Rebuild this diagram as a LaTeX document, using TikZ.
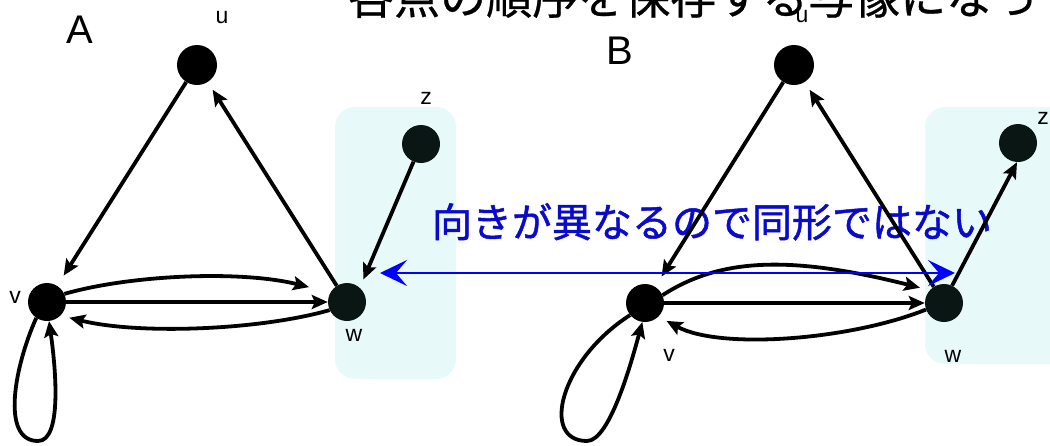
\documentclass[tikz,border=0pt]{standalone}
\usepackage{fontspec}
\setmainfont{Liberation Sans}
\newfontfamily\cjk[FakeBold=0.6]{Noto Sans CJK JP}
\newfontfamily\cjkb[FakeBold=1.2]{Noto Sans CJK JP}
\usetikzlibrary{arrows.meta}
\definecolor{boxcyan}{RGB}{232,249,250}
\definecolor{darknode}{RGB}{10,22,20}
\definecolor{txtblue}{RGB}{10,10,205}
\begin{document}
\begin{tikzpicture}[x=1pt,y=-1pt,
  vtx/.style={circle,fill=black,inner sep=0pt,minimum size=38pt},
  bigvtx/.style={vtx,minimum size=40pt},
  dvtx/.style={vtx,fill=darknode},
  lbl/.style={inner sep=0pt,font=\fontsize{23}{23}\selectfont},
  glbl/.style={inner sep=0pt,font=\fontsize{40}{40}\selectfont},
  edge/.style={line width=3.8pt,-{Stealth[length=16pt,width=14pt,inset=3pt]}},
  grp/.style={fill=boxcyan,rounded corners=20pt},
  bluearrow/.style={draw=blue,line width=2pt,{Stealth[length=27pt,width=26pt,inset=11pt]}-{Stealth[length=27pt,width=26pt,inset=11pt]}},
]
\useasboundingbox (0,0) rectangle (1050,445);
\clip (0,0) rectangle (1050,445);

% group boxes
\path[grp] (335,107) rectangle (456,379);
\path[grp] (925,107) rectangle (1075,364);

% title
\node[anchor=base west,inner sep=0pt,font=\cjk\fontsize{46}{46}\selectfont] (title) at (348,14) {各点の順序を保存する写像になってい};

% blue note
\node[anchor=base,inner sep=0pt,text=txtblue,font=\cjkb\fontsize{40}{40}\selectfont] (note) at (712,237) {向きが異なるので同形ではない};

% graph A
\node[bigvtx] (uA) at (197,65) {};
\node[vtx] (vA) at (47,302) {};
\node[dvtx] (wA) at (347,302) {};
\node[dvtx] (zA) at (421,144) {};
\node[glbl] (labA) at (79.5,30) {A};
\node[lbl] (luA) at (222,18) {u};
\node[lbl] (lvA) at (15,297) {v};
\node[lbl] (lwA) at (354,335) {w};
\node[lbl] (lzA) at (426,98) {z};

% graph B
\node[bigvtx] (uB) at (794,65) {};
\node[vtx] (vB) at (645,303) {};
\node[dvtx] (wB) at (944,303) {};
\node[dvtx] (zB) at (1018,143) {};
\node[glbl] (labB) at (620,51) {B};
\node[lbl] (luB) at (802,17) {u};
\node[lbl] (lvB) at (669,355) {v};
\node[lbl] (lwB) at (953,356) {w};
\node[lbl] (lzB) at (1043,118) {z};

% edges A
\draw[edge,shorten >=12pt] (uA) -- (vA);
\draw[edge,shorten >=9pt] (wA) -- (uA);
\draw[edge] (vA) -- (wA);
\draw[edge,shorten >=22pt] (vA.25) .. controls (130,275) and (240,270) .. (wA.150);
\draw[edge,shorten >=9pt] (wA.205) .. controls (260,330) and (140,335) .. (vA.-45);
\draw[edge] (vA.236) .. controls (15,365) and (0,441) .. (38,441) .. controls (62,441) and (56,370) .. (vA.-84);
\draw[edge,shorten >=9pt] (zA.-113) -- (wA.48);

% edges B
\draw[edge,shorten >=12pt] (uB) -- (vB);
\draw[edge,shorten >=9pt] (wB) -- (uB);
\draw[edge] (vB) -- (wB);
\draw[edge,shorten >=10pt] (vB.24) .. controls (720,258) and (790,255) .. (wB.138);
\draw[edge,shorten >=9pt] (wB.200) .. controls (850,340) and (720,350) .. (vB.-45);
\draw[edge] (vB.219) .. controls (560,360) and (540,441) .. (587,441) .. controls (610,441) and (632,360) .. (vB.-98);
\draw[edge] (wB.65) -- (zB.-93);

% comparison arrow
\coordinate (cmpL) at (380,273);
\coordinate (cmpR) at (955,273);
\draw[bluearrow] (cmpL) -- (cmpR);
\end{tikzpicture}
\end{document}
